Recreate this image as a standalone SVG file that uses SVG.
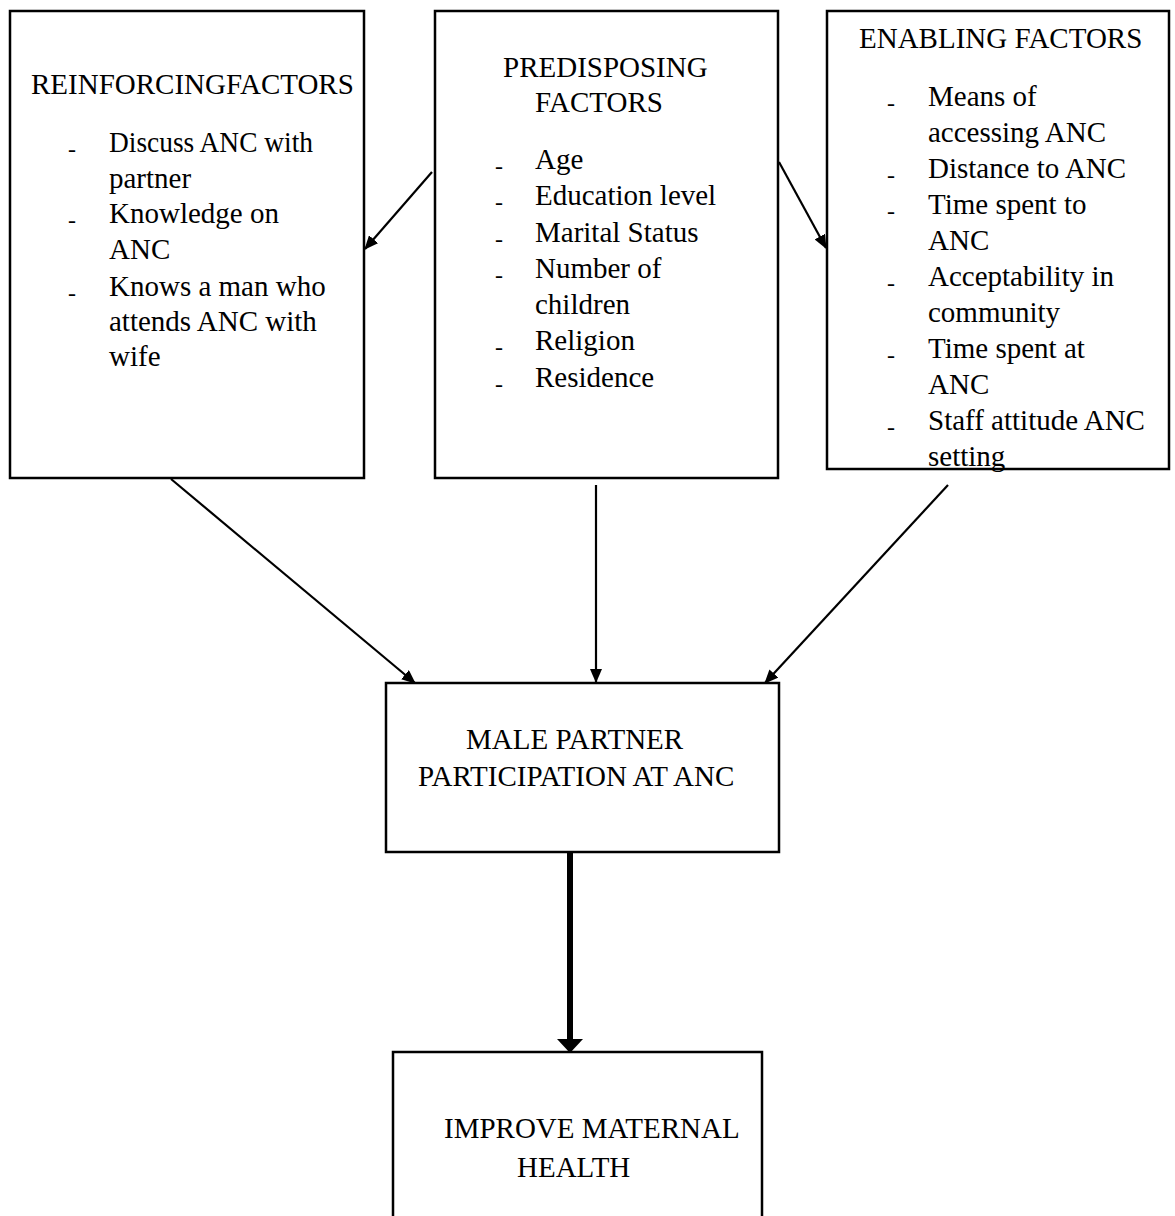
<svg xmlns="http://www.w3.org/2000/svg" width="1175" height="1216" viewBox="0 0 1175 1216">
<style>
  .box { fill: #fff; stroke: #000; stroke-width: 2.5; }
  .t { font-family: "Liberation Serif", "Times New Roman", serif; font-size: 29px; fill: #000; }
  .d { font-family: "Liberation Serif", "Times New Roman", serif; font-size: 24px; fill: #000; }
  .c { stroke: #000; stroke-width: 2.2; fill: none; }
</style>
<defs>
  <marker id="ah" markerUnits="userSpaceOnUse" markerWidth="14" markerHeight="12" refX="13" refY="6" orient="auto">
    <path d="M0,0 L14,6 L0,12 Z" fill="#000"/>
  </marker>
</defs>
<rect width="1175" height="1216" fill="#fff"/>

<g id="reinforcing">
  <rect class="box" x="10" y="11" width="354" height="467"/>
  <text class="t" x="31" y="94">REINFORCINGFACTORS</text>
  <text class="d" x="68" y="157">-</text>
  <text class="t" x="109" y="152" textLength="204" lengthAdjust="spacingAndGlyphs">Discuss ANC with</text>
  <text class="t" x="109" y="188">partner</text>
  <text class="d" x="68" y="228">-</text>
  <text class="t" x="109" y="223">Knowledge on</text>
  <text class="t" x="109" y="259">ANC</text>
  <text class="d" x="68" y="301">-</text>
  <text class="t" x="109" y="296">Knows a man who</text>
  <text class="t" x="109" y="331">attends ANC with</text>
  <text class="t" x="109" y="366">wife</text>
</g>

<g id="predisposing">
  <rect class="box" x="435" y="11" width="343" height="467"/>
  <text class="t" x="503" y="77">PREDISPOSING</text>
  <text class="t" x="535" y="112">FACTORS</text>
  <text class="d" x="495" y="174">-</text>
  <text class="t" x="535" y="169">Age</text>
  <text class="d" x="495" y="210">-</text>
  <text class="t" x="535" y="205">Education level</text>
  <text class="d" x="495" y="247">-</text>
  <text class="t" x="535" y="242">Marital Status</text>
  <text class="d" x="495" y="283">-</text>
  <text class="t" x="535" y="278">Number of</text>
  <text class="t" x="535" y="314">children</text>
  <text class="d" x="495" y="355">-</text>
  <text class="t" x="535" y="350">Religion</text>
  <text class="d" x="495" y="392">-</text>
  <text class="t" x="535" y="387">Residence</text>
</g>

<g id="enabling">
  <rect class="box" x="827" y="11" width="342" height="458"/>
  <text class="t" x="859" y="48">ENABLING FACTORS</text>
  <text class="d" x="887" y="111">-</text>
  <text class="t" x="928" y="106">Means of</text>
  <text class="t" x="928" y="142">accessing ANC</text>
  <text class="d" x="887" y="183">-</text>
  <text class="t" x="928" y="178">Distance to ANC</text>
  <text class="d" x="887" y="219">-</text>
  <text class="t" x="928" y="214">Time spent to</text>
  <text class="t" x="928" y="250">ANC</text>
  <text class="d" x="887" y="291">-</text>
  <text class="t" x="928" y="286">Acceptability in</text>
  <text class="t" x="928" y="322">community</text>
  <text class="d" x="887" y="363">-</text>
  <text class="t" x="928" y="358">Time spent at</text>
  <text class="t" x="928" y="394">ANC</text>
  <text class="d" x="887" y="435">-</text>
  <text class="t" x="928" y="430">Staff attitude ANC</text>
  <text class="t" x="928" y="466">setting</text>
</g>

<g id="male">
  <rect class="box" x="386" y="683" width="393" height="169"/>
  <text class="t" x="466" y="749">MALE PARTNER</text>
  <text class="t" x="418" y="786">PARTICIPATION AT ANC</text>
</g>

<g id="improve">
  <rect class="box" x="393" y="1052" width="369" height="190"/>
  <text class="t" x="444" y="1138">IMPROVE MATERNAL</text>
  <text class="t" x="517" y="1177">HEALTH</text>
</g>

<g id="connectors">
  <line class="c" x1="432" y1="172" x2="365" y2="249" marker-end="url(#ah)"/>
  <line class="c" x1="779" y1="162" x2="826" y2="248" marker-end="url(#ah)"/>
  <line class="c" x1="171" y1="479" x2="415" y2="683" marker-end="url(#ah)"/>
  <line class="c" x1="596" y1="485" x2="596" y2="682" marker-end="url(#ah)"/>
  <line class="c" x1="948" y1="485" x2="765" y2="683" marker-end="url(#ah)"/>
  <line x1="570" y1="853" x2="570" y2="1041" stroke="#000" stroke-width="6"/>
  <polygon points="557,1039 583,1039 570,1053" fill="#000"/>
</g>
</svg>
